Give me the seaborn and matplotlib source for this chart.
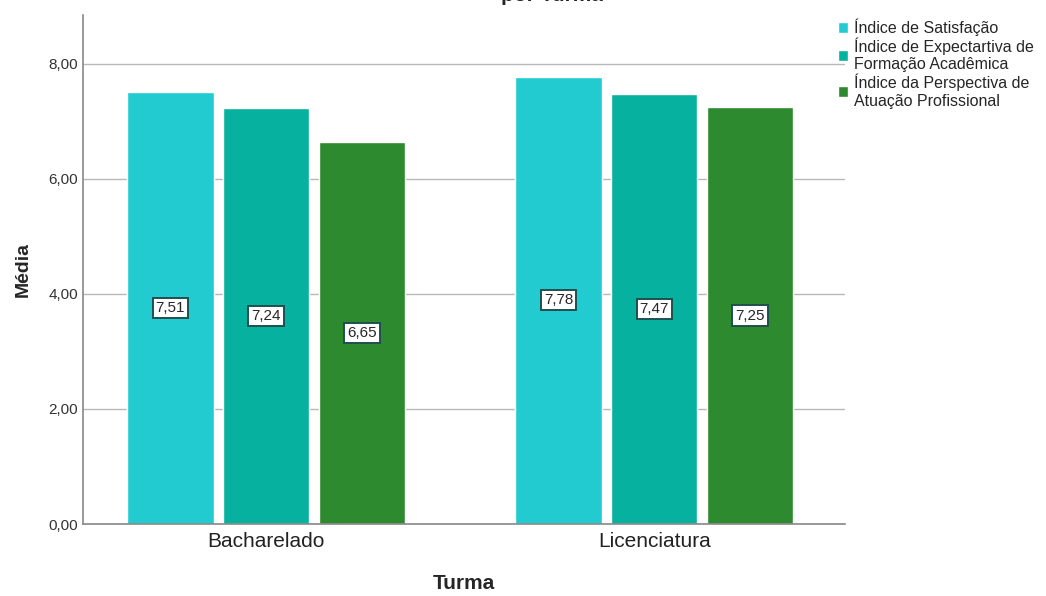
import pandas as pd
import seaborn as sns
import matplotlib.pyplot as plt

turmas = ["Bacharelado", "Licenciatura"]
indices = ["Índice de Satisfação",
           "Índice de Expectartiva de\nFormação Acadêmica",
           "Índice da Perspectiva de\nAtuação Profissional"]
satisfacao = [7.51, 7.78]
expectativa = [7.24, 7.47]
perspectiva = [6.65, 7.25]
cores = ["#21cbd0", "#06b19f", "#2e8a2e"]

df = pd.DataFrame({
    "Turma": turmas * 3,
    "Indice": [indices[0]] * 2 + [indices[1]] * 2 + [indices[2]] * 2,
    "Media": satisfacao + expectativa + perspectiva,
})

sns.set_style("white")
plt.rcParams['font.family'] = ['Liberation Sans', 'DejaVu Sans']

fig = plt.figure(figsize=(10.46, 5.96), dpi=100)
ax = fig.add_axes([0.0794, 0.1208, 0.7286, 0.854])

sns.barplot(data=df, x="Turma", y="Media", hue="Indice", palette=cores,
            width=0.74, gap=0.1, saturation=1, errorbar=None, ax=ax)

# rótulos no meio das barras
for cont in ax.containers:
    labels = [f"{v:.2f}".replace(".", ",") for v in cont.datavalues]
    ax.bar_label(cont, labels=labels, label_type="center", fontsize=11,
                 bbox=dict(boxstyle="square,pad=0.2", fc="white", ec="#1f4f4f", lw=1.4))

ax.set_ylim(0, 8.85)
ax.set_xlim(-0.472, 1.492)
ax.set_yticks([0, 2, 4, 6, 8])
ax.set_yticklabels(["0,00", "2,00", "4,00", "6,00", "8,00"], fontsize=11, color="#333333")
ax.tick_params(axis="x", labelsize=15, pad=6, labelcolor="#222222")
ax.tick_params(axis="both", length=0)
ax.yaxis.grid(True, color="#b8b8b8", lw=1)
ax.set_axisbelow(True)
for s in ["top", "right"]:
    ax.spines[s].set_visible(False)
for s in ["left", "bottom"]:
    ax.spines[s].set_color("#888888")
    ax.spines[s].set_linewidth(1.2)

ax.set_xlabel("Turma", fontsize=15, fontweight="bold", labelpad=16)
ax.set_ylabel("Média", fontsize=14, fontweight="bold", labelpad=12)

leg = ax.legend(loc="upper left", bbox_to_anchor=(0.982, 1.006), frameon=False,
                fontsize=11.5, handlelength=0.65, handleheight=0.65, handletextpad=0.35,
                labelspacing=0.1, borderaxespad=0.0)

fig.text(0.528, 1.008, "por Turma", ha="center", va="center", fontsize=15, fontweight="bold")

plt.savefig("out.png", dpi=100)
